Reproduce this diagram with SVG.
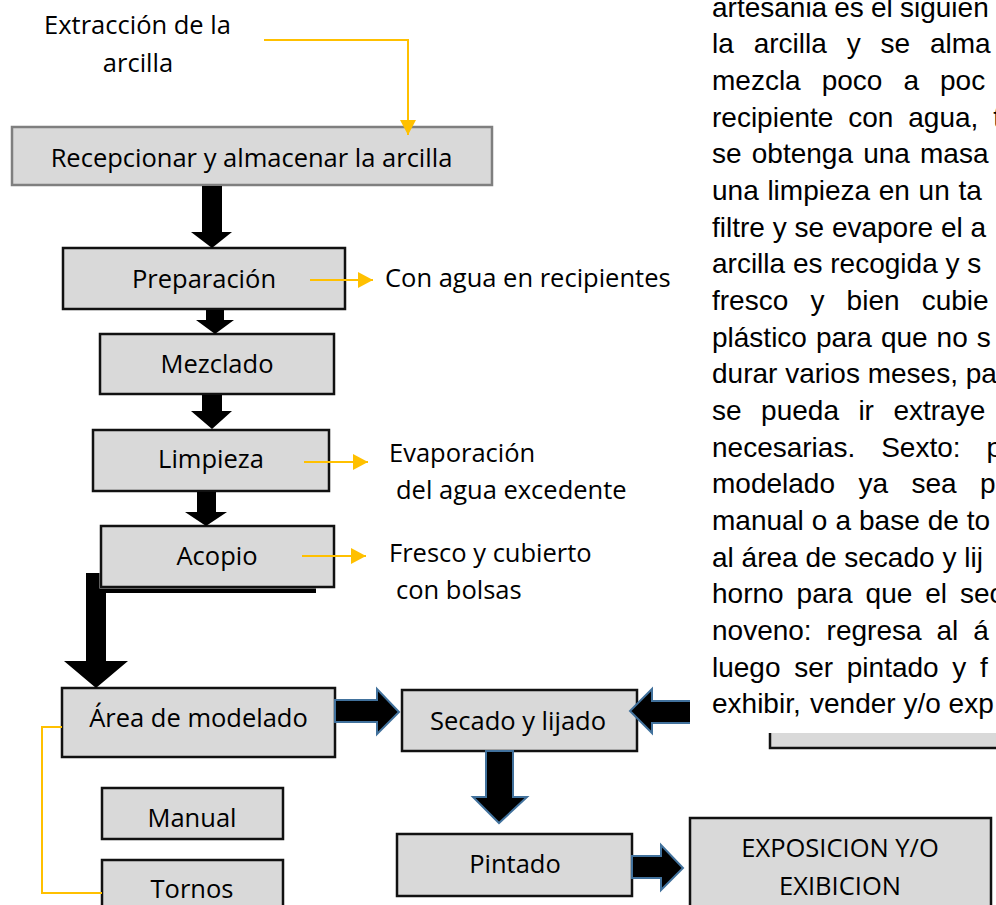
<svg xmlns="http://www.w3.org/2000/svg" width="996" height="905" viewBox="0 0 996 905">
<defs>
<marker id="ya" markerUnits="userSpaceOnUse" markerWidth="16" markerHeight="18" refX="15" refY="8" orient="auto">
<path d="M0,0 L15,8 L0,16 Z" fill="#ffc000"/>
</marker>
</defs>
<style>
.box{fill:#d9d9d9;stroke:#111;stroke-width:2.5}
.lbl{font-family:"Open Sans","Noto Sans",sans-serif;font-size:25.5px;fill:#000}
.c{text-anchor:middle}
.para{font-family:"Liberation Sans",Arial,sans-serif;font-size:28px;fill:#000}
.yl{fill:none;stroke:#ffc000;stroke-width:2}
.blk{fill:#000}
.bl{fill:#000;stroke:#41719c;stroke-width:2}
</style>
<rect width="996" height="905" fill="#fff"/>

<g id="paragraph" class="para">
<text y="16.7"><tspan x="712">artesania</tspan><tspan x="834.3">es</tspan><tspan x="871">el</tspan><tspan x="900">siguien</tspan></text>
<text y="53.4"><tspan x="712">la</tspan><tspan x="753.7">arcilla</tspan><tspan x="846.7">y</tspan><tspan x="880.6">se</tspan><tspan x="930">alma</tspan></text>
<text y="90"><tspan x="712">mezcla</tspan><tspan x="821.7">poco</tspan><tspan x="903.4">a</tspan><tspan x="940">poc</tspan></text>
<text y="126.7"><tspan x="712">recipiente</tspan><tspan x="848.3">con</tspan><tspan x="908.3">agua,</tspan><tspan x="993.3">t</tspan></text>
<text y="163.4"><tspan x="712">se</tspan><tspan x="751.8">obtenga</tspan><tspan x="863.2">una</tspan><tspan x="920">masa</tspan></text>
<text y="200"><tspan x="712">una</tspan><tspan x="767.4">limpieza</tspan><tspan x="878.8">en</tspan><tspan x="918.6">un</tspan><tspan x="958.4">ta</tspan></text>
<text y="236.7"><tspan x="712">filtre</tspan><tspan x="772.7">y</tspan><tspan x="794.5">se</tspan><tspan x="831.9">evapore</tspan><tspan x="940.9">el</tspan><tspan x="970.5">a</tspan></text>
<text y="273.4"><tspan x="712">arcilla</tspan><tspan x="792.9">es</tspan><tspan x="830.3">recogida</tspan><tspan x="945.5">y</tspan><tspan x="967.3">s</tspan></text>
<text y="310"><tspan x="712">fresco</tspan><tspan x="810.4">y</tspan><tspan x="846.6">bien</tspan><tspan x="921.7">cubie</tspan></text>
<text y="346.7"><tspan x="712">plástico</tspan><tspan x="815.9">para</tspan><tspan x="880.9">que</tspan><tspan x="936.6">no</tspan><tspan x="976.7">s</tspan></text>
<text y="383.4"><tspan x="712">durar</tspan><tspan x="785.2">varios</tspan><tspan x="867.7">meses,</tspan><tspan x="965.7">pa</tspan></text>
<text y="420"><tspan x="712">se</tspan><tspan x="761.1">pueda</tspan><tspan x="858.4">ir</tspan><tspan x="893.4">extraye</tspan></text>
<text y="456.7"><tspan x="712">necesarias.</tspan><tspan x="881.2">Sexto:</tspan><tspan x="986.6">p</tspan></text>
<text y="493.4"><tspan x="712">modelado</tspan><tspan x="858.4">ya</tspan><tspan x="911.5">sea</tspan><tspan x="980">p</tspan></text>
<text y="530"><tspan x="712">manual</tspan><tspan x="811.8">o</tspan><tspan x="835.4">a</tspan><tspan x="859">base</tspan><tspan x="927.7">de</tspan><tspan x="966.8">to</tspan></text>
<text y="566.7"><tspan x="712">al</tspan><tspan x="741.6">área</tspan><tspan x="805.4">de</tspan><tspan x="844.3">secado</tspan><tspan x="942.4">y</tspan><tspan x="964.2">lij</tspan></text>
<text y="603.4"><tspan x="712">horno</tspan><tspan x="796.6">para</tspan><tspan x="865.6">que</tspan><tspan x="925.3">el</tspan><tspan x="960">sec</tspan></text>
<text y="640"><tspan x="712">noveno:</tspan><tspan x="826.6">regresa</tspan><tspan x="936.5">al</tspan><tspan x="973.3">á</tspan></text>
<text y="676.7"><tspan x="712">luego</tspan><tspan x="794.2">ser</tspan><tspan x="846.8">pintado</tspan><tspan x="952.3">y</tspan><tspan x="980">f</tspan></text>
<text y="713.4"><tspan x="712">exhibir,</tspan><tspan x="810">vender</tspan><tspan x="903.4">y/o</tspan><tspan x="948.6">exp</tspan></text>
</g>

<g id="partial-box">
<rect x="770" y="733" width="230" height="15" fill="#d9d9d9"/>
<path d="M770,733 V748 H1000" fill="none" stroke="#111" stroke-width="2.5"/>
</g>

<g id="n-recepcionar"><rect x="12" y="127" width="480" height="58" fill="#d9d9d9" stroke="#7f7f7f" stroke-width="2.5"/><text class="lbl c" x="251.5" y="167">Recepcionar y almacenar la arcilla</text></g>
<g id="n-extraccion"><text class="lbl c" x="137.5" y="34">Extracción de la</text><text class="lbl c" x="138" y="72">arcilla</text></g>
<g id="n-preparacion"><rect class="box" x="63" y="248" width="282" height="61"/><text class="lbl c" x="204" y="288">Preparación</text></g>
<g id="n-con-agua"><text class="lbl" x="385" y="287">Con agua en recipientes</text></g>
<g id="n-mezclado"><rect class="box" x="100" y="334" width="234" height="60"/><text class="lbl c" x="217" y="373">Mezclado</text></g>
<g id="n-limpieza"><rect class="box" x="93" y="430" width="236" height="61"/><text class="lbl c" x="211" y="468">Limpieza</text></g>
<g id="n-evaporacion"><text class="lbl" x="389" y="462">Evaporación</text><text class="lbl" x="396" y="499">del agua excedente</text></g>
<g id="n-acopio"><rect class="box" x="101" y="526" width="233" height="61"/><text class="lbl c" x="217" y="565">Acopio</text></g>
<g id="n-fresco"><text class="lbl" x="389" y="562">Fresco y cubierto</text><text class="lbl" x="396" y="599">con bolsas</text></g>
<g id="n-area"><rect class="box" x="62" y="688" width="273" height="69"/><text class="lbl c" x="198.5" y="727">Área de modelado</text></g>
<g id="n-manual"><rect class="box" x="102" y="788" width="181" height="51"/><text class="lbl c" x="192" y="827">Manual</text></g>
<g id="n-tornos"><rect class="box" x="102" y="860" width="181" height="60"/><text class="lbl c" x="192" y="898">Tornos</text></g>
<g id="n-secado"><rect class="box" x="402" y="690" width="235" height="61"/><text class="lbl c" x="518" y="730">Secado y lijado</text></g>
<g id="n-pintado"><rect class="box" x="397" y="834" width="235" height="62"/><text class="lbl c" x="515" y="873">Pintado</text></g>
<g id="n-exposicion"><rect class="box" x="690" y="818" width="301" height="100"/><text class="lbl c" x="840" y="857">EXPOSICION Y/O</text><text class="lbl c" x="840" y="895">EXIBICION</text></g>

<g id="connectors">
<path class="yl" d="M264,40 H408 V135" marker-end="url(#ya)"/>
<line class="yl" x1="310" y1="280" x2="373" y2="280" marker-end="url(#ya)"/>
<line class="yl" x1="304" y1="462" x2="368" y2="462" marker-end="url(#ya)"/>
<line class="yl" x1="302" y1="556" x2="366" y2="556" marker-end="url(#ya)"/>
<path class="yl" d="M62,727 H42 V893 H102"/>
<polygon class="blk" points="202,186 222,186 222,232 232,232 212,248 191,232 202,232"/>
<polygon class="blk" points="206,310 224,310 224,320 234,320 215,334 196,320 206,320"/>
<polygon class="blk" points="202,395 222,395 222,411 232,411 212,429 191,411 202,411"/>
<polygon class="blk" points="197,492 216,492 216,512 227,512 206,526 185,512 197,512"/>
<polygon class="blk" points="86,573 99.5,573 99.5,588.5 316,588.5 316,593 106,593 106,661 128,661 96,688 64,661 86,661"/>
<polygon class="bl" points="335,700 377,700 377,689 399,712 377,734 377,722 335,722"/>
<polygon class="blk" points="690,701 652,701 652,689 630,711 652,733 652,723 690,723"/>
<polyline fill="none" stroke="#41719c" stroke-width="2" points="690,701 652,701 652,689 630,711 652,733 652,723 690,723"/>
<polygon class="bl" points="486,751 486,797 473,797 499,823 527,797 513,797 513,751"/>
<polygon class="bl" points="632,856 661,856 661,845 683,868 661,890 661,878 632,878"/>
</g>
</svg>
